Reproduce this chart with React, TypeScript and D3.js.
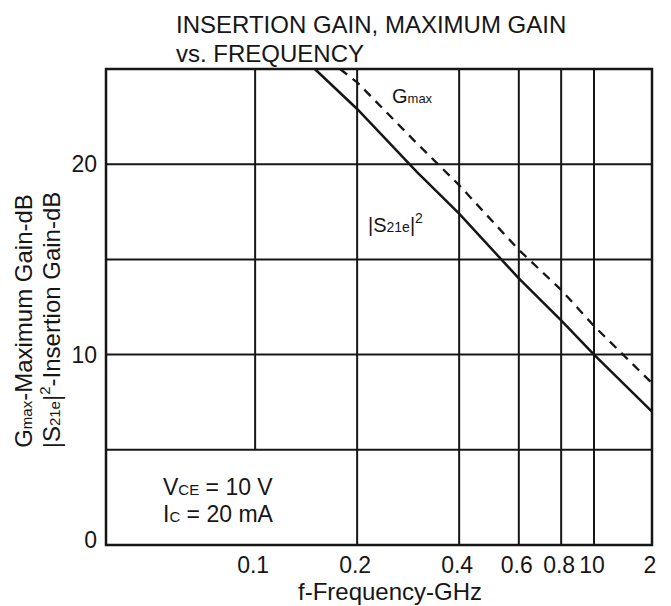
import React, { useEffect, useRef } from "react";
import * as d3 from "d3";

// frequency (GHz) and gain (dB)
const s21Freq = [0.15, 0.2, 0.3, 0.4, 0.6, 0.8, 1.0, 2.0];
const s21Gain = [25, 22.9, 19.6, 17.4, 14.0, 11.8, 10.0, 7.0];
const gmaxFreq = [0.178, 0.2, 0.3, 0.4, 0.6, 0.8, 1.0, 2.0];
const gmaxGain = [25, 24.3, 21.1, 18.9, 15.5, 13.4, 11.5, 8.5];

const xTickValues = [0.1, 0.2, 0.4, 0.6, 0.8, 1.0, 2.0];
const xTickLabels = ["0.1", "0.2", "0.4", "0.6", "0.8", "10", "2"];
const yTickValues = [0, 10, 20];
const yGridValues = [5, 10, 15, 20];

const FONT = "'Liberation Sans', Arial, Helvetica, sans-serif";

const App = () => {
  const ref = useRef<SVGSVGElement>(null);

  useEffect(() => {
    const svg = d3.select(ref.current);
    svg.selectAll("*").remove();

    const left = 106,
      right = 652,
      top = 69,
      bottom = 545;

    // log axis; the last segment (1 -> 2) is squeezed like on the original sheet
    const x = d3
      .scaleLog()
      .domain([0.0363, 1, 2])
      .range([left, 594, right]);
    const y = d3.scaleLinear().domain([0, 25]).range([bottom, top]);

    const ink = "#161616";

    // grid
    const grid = svg.append("g").attr("stroke", ink).attr("stroke-width", 2);
    grid
      .selectAll("line.h")
      .data(yGridValues)
      .enter()
      .append("line")
      .attr("class", "h")
      .attr("x1", left)
      .attr("x2", right)
      .attr("y1", (d) => y(d))
      .attr("y2", (d) => y(d));
    grid
      .selectAll("line.v")
      .data(xTickValues.filter((d) => d < 2))
      .enter()
      .append("line")
      .attr("class", "v")
      .attr("x1", (d) => x(d))
      .attr("x2", (d) => x(d))
      .attr("y1", top)
      // the 0.1 line stops above the bias-condition box
      .attr("y2", (d) => (d === 0.1 ? y(5) : bottom));

    // frame
    svg
      .append("rect")
      .attr("x", left)
      .attr("y", top)
      .attr("width", right - left)
      .attr("height", bottom - top)
      .attr("fill", "none")
      .attr("stroke", ink)
      .attr("stroke-width", 2.5);

    // curves
    const line = d3
      .line<number>()
      .x((d) => x(d))
      .y((d, i) => y(0));

    const s21Line = d3
      .line<[number, number]>()
      .x((d) => x(d[0]))
      .y((d) => y(d[1]));

    svg
      .append("path")
      .datum(s21Freq.map((f, i) => [f, s21Gain[i]] as [number, number]))
      .attr("d", s21Line)
      .attr("fill", "none")
      .attr("stroke", ink)
      .attr("stroke-width", 2.5);

    svg
      .append("path")
      .datum(gmaxFreq.map((f, i) => [f, gmaxGain[i]] as [number, number]))
      .attr("d", s21Line)
      .attr("fill", "none")
      .attr("stroke", ink)
      .attr("stroke-width", 2.3)
      .attr("stroke-dasharray", "9,7");

    // tick labels
    svg
      .selectAll("text.xt")
      .data(xTickValues)
      .enter()
      .append("text")
      .attr("class", "xt")
      .attr("x", (d) => x(d) - 2)
      .attr("y", 573)
      .attr("text-anchor", "middle")
      .attr("font-size", 23)
      .attr("font-family", FONT)
      .attr("fill", ink)
      .text((d, i) => xTickLabels[i]);

    svg
      .selectAll("text.yt")
      .data(yTickValues)
      .enter()
      .append("text")
      .attr("class", "yt")
      .attr("x", 97)
      .attr("y", (d) => Math.min(y(d), bottom - 5) + 8)
      .attr("text-anchor", "end")
      .attr("font-size", 23)
      .attr("font-family", FONT)
      .attr("fill", ink)
      .text((d) => d);

    // x axis title
    svg
      .append("text")
      .attr("x", 390)
      .attr("y", 600)
      .attr("text-anchor", "middle")
      .attr("font-size", 24)
      .attr("font-family", FONT)
      .attr("fill", ink)
      .text("f-Frequency-GHz");

    // y axis title, two lines
    const yt1 = svg
      .append("text")
      .attr("transform", "translate(32,321) rotate(-90)")
      .attr("text-anchor", "middle")
      .attr("font-size", 24)
      .attr("font-family", FONT)
      .attr("fill", ink);
    yt1.append("tspan").text("G");
    yt1.append("tspan").attr("font-size", 15).text("max");
    yt1.append("tspan").text("-Maximum Gain-dB");

    const yt2 = svg
      .append("text")
      .attr("transform", "translate(60,320) rotate(-90)")
      .attr("text-anchor", "middle")
      .attr("font-size", 24)
      .attr("font-family", FONT)
      .attr("fill", ink);
    yt2.append("tspan").text("|S");
    yt2.append("tspan").attr("font-size", 15).text("21e");
    yt2.append("tspan").text("|");
    yt2.append("tspan").attr("font-size", 15).attr("dy", -10).text("2");
    yt2.append("tspan").attr("dy", 10).text("-Insertion Gain-dB");

    // title
    const title = svg
      .append("g")
      .attr("font-size", 24)
      .attr("font-family", FONT)
      .attr("fill", ink);
    title.append("text").attr("x", 176).attr("y", 33).text("INSERTION GAIN, MAXIMUM GAIN");
    title.append("text").attr("x", 176).attr("y", 62).text("vs. FREQUENCY");

    // curve labels
    const gl = svg
      .append("text")
      .attr("x", 392)
      .attr("y", 103)
      .attr("font-size", 20)
      .attr("font-family", FONT)
      .attr("fill", ink);
    gl.append("tspan").text("G");
    gl.append("tspan").attr("font-size", 13).text("max");

    const sl = svg
      .append("text")
      .attr("x", 368)
      .attr("y", 232)
      .attr("font-size", 20)
      .attr("font-family", FONT)
      .attr("fill", ink);
    sl.append("tspan").text("|S");
    sl.append("tspan").attr("font-size", 14).text("21e");
    sl.append("tspan").text("|");
    sl.append("tspan").attr("font-size", 14).attr("dy", -9).text("2");

    // bias conditions
    const bias = svg
      .append("g")
      .attr("font-size", 23)
      .attr("font-family", FONT)
      .attr("fill", ink);
    const b1 = bias.append("text").attr("x", 163).attr("y", 495);
    b1.append("tspan").text("V");
    b1.append("tspan").attr("font-size", 15).text("CE");
    b1.append("tspan").text(" = 10 V");
    const b2 = bias.append("text").attr("x", 163).attr("y", 522);
    b2.append("tspan").text("I");
    b2.append("tspan").attr("font-size", 15).text("C");
    b2.append("tspan").text(" = 20 mA");
  }, []);

  return (
    <svg
      ref={ref}
      width={671}
      height={606}
      style={{ position: "absolute", left: 0, top: 0, background: "#fff" }}
    />
  );
};

export default App;
